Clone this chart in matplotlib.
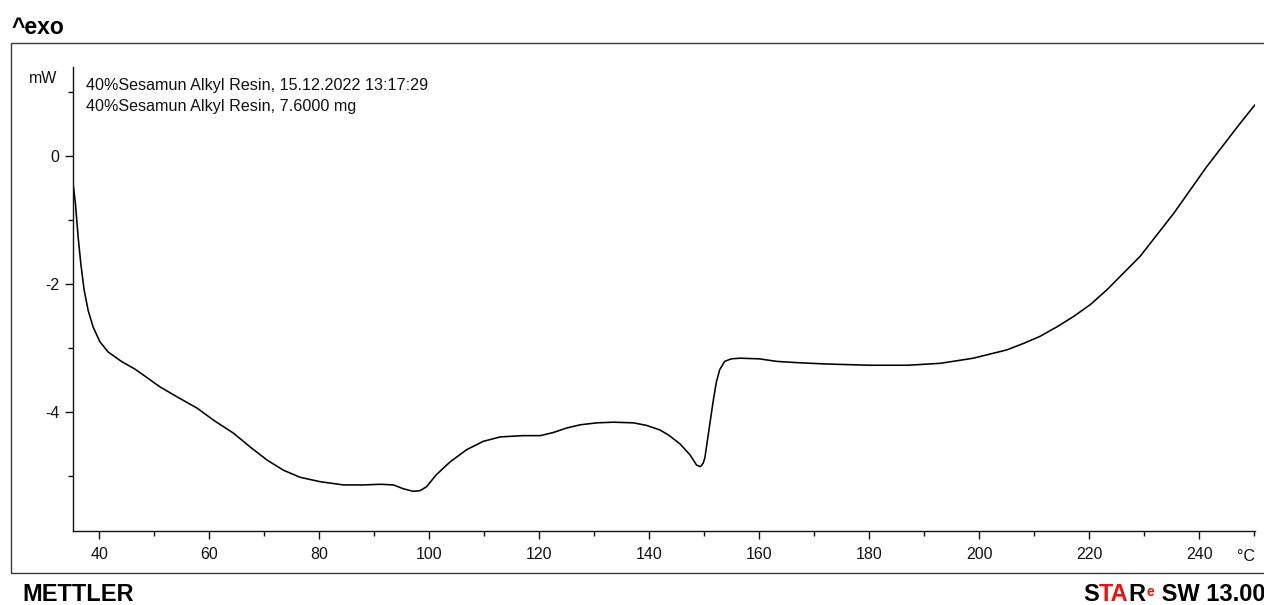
import matplotlib
matplotlib.use('Agg')
import matplotlib.pyplot as plt
from matplotlib.patches import Rectangle
from matplotlib.ticker import FixedLocator, MultipleLocator

# ---------------- data ----------------
temperature_c = [35.27, 35.69, 36.18, 36.67, 37.27, 38.0, 38.9, 40.12, 41.6, 44.05,
                 46.5, 48.0, 51.1, 54.5, 57.8, 61.0, 64.4, 67.5, 70.5, 73.5,
                 76.5, 80.2, 84.4, 88.0, 91.2, 93.5, 95.3, 97.1, 98.3, 99.5,
                 101.3, 103.8, 106.8, 109.8, 112.9, 117.0, 120.2, 122.6, 125.0, 127.5,
                 130.5, 133.5, 137.1, 139.5, 141.9, 143.5, 145.6, 147.4, 148.6, 149.3,
                 149.8, 150.1, 150.9, 151.6, 152.2, 152.8, 153.7, 154.9, 156.5, 160.0,
                 163.2, 167.0, 172.0, 180.0, 187.0, 192.9, 198.9, 205.0, 208.0, 211.0,
                 214.1, 217.1, 220.2, 223.2, 226.2, 229.2, 235.3, 241.3, 247.4, 250.1]
heat_flow_mw = [-0.43, -0.74, -1.26, -1.68, -2.09, -2.41, -2.67, -2.90, -3.06, -3.21,
                -3.33, -3.42, -3.61, -3.78, -3.94, -4.14, -4.33, -4.55, -4.75, -4.91,
                -5.02, -5.09, -5.14, -5.14, -5.13, -5.14, -5.20, -5.24, -5.23, -5.17,
                -4.98, -4.78, -4.59, -4.46, -4.39, -4.37, -4.37, -4.32, -4.25, -4.20,
                -4.17, -4.16, -4.17, -4.21, -4.28, -4.36, -4.50, -4.67, -4.83, -4.855,
                -4.80, -4.72, -4.25, -3.84, -3.53, -3.34, -3.21, -3.17, -3.16, -3.17,
                -3.21, -3.23, -3.25, -3.27, -3.27, -3.24, -3.16, -3.03, -2.93, -2.82,
                -2.67, -2.51, -2.32, -2.09, -1.83, -1.57, -0.90, -0.17, 0.51, 0.80]
x_major_ticks = [40, 60, 80, 100, 120, 140, 160, 180, 200, 220, 240]
y_major_ticks = [0, -2, -4]
y_tick_labels = ['0', '-2', '-4']
annotation_lines = ['40%Sesamun Alkyl Resin, 15.12.2022 13:17:29',
                    '40%Sesamun Alkyl Resin, 7.6000 mg']
y_unit = 'mW'
x_unit = '°C'
top_label = '^exo'
brand_left = 'METTLER'

plt.rcParams['font.family'] = ['Liberation Sans', 'DejaVu Sans']

W, H = 1264, 605
fig = plt.figure(figsize=(W / 100, H / 100), dpi=100)


def fx(px):
    return px / W


def fy(py):
    return 1 - py / H


ax = fig.add_axes([fx(72.7), fy(531), fx(1255) - fx(72.7), fy(67) - fy(531)])
ax.plot(temperature_c, heat_flow_mw, color='black', lw=1.15,
        solid_joinstyle='round', solid_capstyle='round')
ax.set_xlim(35.2, 250.1)
ax.set_ylim(-5.86, 1.39)

for s in ['top', 'right']:
    ax.spines[s].set_visible(False)
for s in ['left', 'bottom']:
    ax.spines[s].set_color('#111111')
    ax.spines[s].set_linewidth(1.0)

ax.xaxis.set_major_locator(FixedLocator(x_major_ticks))
ax.xaxis.set_minor_locator(MultipleLocator(10))
ax.yaxis.set_major_locator(FixedLocator(y_major_ticks))
ax.set_yticklabels(y_tick_labels)
ax.yaxis.set_minor_locator(MultipleLocator(1))
ax.tick_params(axis='both', which='major', direction='out', length=6, width=1.0,
               color='#111111', labelsize=11.5, labelcolor='#111111')
ax.tick_params(axis='both', which='minor', direction='out', length=3.8, width=1.0,
               color='#111111')
ax.tick_params(axis='x', which='major', pad=5.5)
ax.tick_params(axis='y', which='major', pad=3.5)

# unit labels
fig.text(fx(57.5), fy(83), y_unit, fontsize=11.5, ha='right', va='baseline', color='#111111')
fig.text(fx(1255), fy(561), x_unit, fontsize=11.5, ha='right', va='baseline', color='#111111')

# annotation lines
fig.text(fx(86), fy(90), annotation_lines[0], fontsize=11.6, ha='left', va='baseline', color='#111111')
fig.text(fx(86), fy(111), annotation_lines[1], fontsize=11.6, ha='left', va='baseline', color='#111111')

# outer frame
fig.add_artist(Rectangle((fx(11), fy(573.3)), 1.2, fy(42.7) - fy(573.3),
                         transform=fig.transFigure, fill=False, ec='#3a3a3a', lw=1.0))

# top-left ^exo
fig.text(fx(11.5), fy(33.5), top_label, fontsize=16.5, weight='bold', ha='left', va='baseline')

# bottom labels
fig.text(fx(22.5), fy(600.7), brand_left, fontsize=17, weight='bold', ha='left', va='baseline')

t1 = fig.text(fx(1083.3), fy(601), 'S', fontsize=17, weight='bold', ha='left', va='baseline', color='black')
t2 = ax.annotate('TA', xy=(1, 0), xycoords=t1, fontsize=17, weight='bold', ha='left', va='bottom',
                 color='#ee1111', annotation_clip=False)
t3 = ax.annotate('R', xy=(1, 0), xycoords=t2, fontsize=17, weight='bold', ha='left', va='bottom',
                 color='black', annotation_clip=False)
t4 = ax.annotate('e', xy=(1, 1), xycoords=t3, xytext=(0.5, -1.5), textcoords='offset points',
                 fontsize=10, weight='bold', ha='left', va='top', color='#ee1111', annotation_clip=False)
t5 = ax.annotate(' SW 13.00', xy=(1, 0), xycoords=t3, xytext=(7, 0), textcoords='offset points',
                 fontsize=17, weight='bold', ha='left', va='bottom', color='black', annotation_clip=False)

fig.savefig('out.png', dpi=100)
